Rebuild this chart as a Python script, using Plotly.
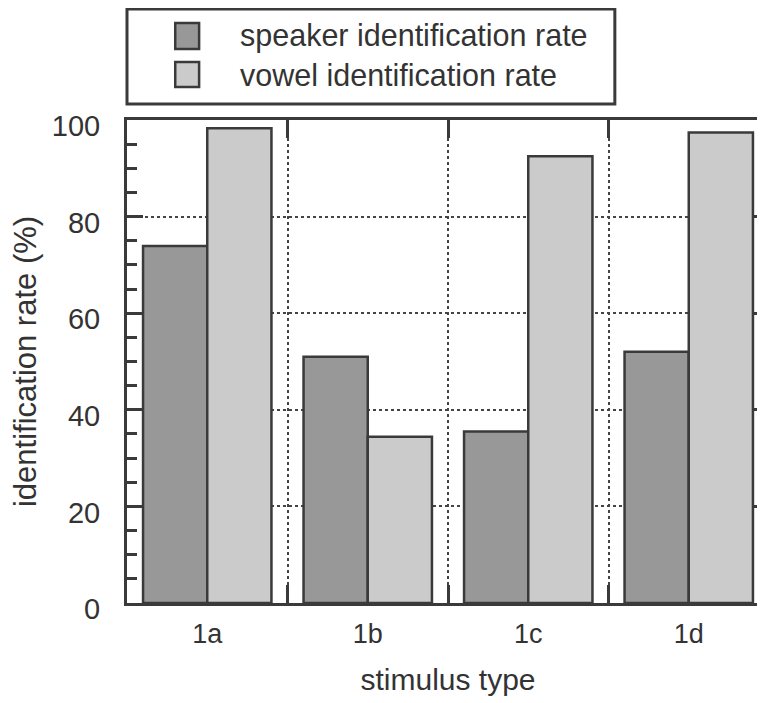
import plotly.graph_objects as go

categories = ["1a", "1b", "1c", "1d"]
speaker_rate = [73.9, 51.0, 35.5, 52.0]
vowel_rate = [98.3, 34.4, 92.5, 97.4]
series_names = ["speaker identification rate", "vowel identification rate"]
y_ticks = [0, 20, 40, 60, 80, 100]

SPEAKER_COLOR = "#989898"
VOWEL_COLOR = "#cbcbcb"
EDGE = "#3a3a3a"
TEXT = "#333333"
FONT = "Liberation Sans, Arial, sans-serif"

W, H = 765, 703
OFF = 8  # page body margin
L, T, B, R = 118.5, 112, 108, 1
plot_w = W - L - R
plot_h = H - T - B

def px_x(p):
    return (p - OFF - L) / plot_w

def px_y(p):
    return (H - B - (p - OFF)) / plot_h

fig = go.Figure()
fig.add_trace(go.Bar(x=categories, y=speaker_rate, name=series_names[0],
                     marker=dict(color=SPEAKER_COLOR, line=dict(color=EDGE, width=2.5)),
                     showlegend=False))
fig.add_trace(go.Bar(x=categories, y=vowel_rate, name=series_names[1],
                     marker=dict(color=VOWEL_COLOR, line=dict(color=EDGE, width=2.5)),
                     showlegend=False))

# manual legend (box, swatches, labels)
shapes = [dict(type="rect", xref="paper", yref="paper",
               x0=px_x(126.5), x1=px_x(617), y0=px_y(104), y1=px_y(9),
               line=dict(color=EDGE, width=3), fillcolor="white")]
rows = [(23, 49, 36), (62, 87, 75)]
colors = [SPEAKER_COLOR, VOWEL_COLOR]
annotations = []
for (top, bot, mid), c, name in zip(rows, colors, series_names):
    shapes.append(dict(type="rect", xref="paper", yref="paper",
                       x0=px_x(175), x1=px_x(199), y0=px_y(bot), y1=px_y(top),
                       line=dict(color=EDGE, width=2.5), fillcolor=c))
    annotations.append(dict(xref="paper", yref="paper", x=px_x(238), y=px_y(mid),
                            xanchor="left", yanchor="middle", text=name, showarrow=False,
                            font=dict(family=FONT, size=30.5, color=TEXT)))

fig.update_layout(
    width=W, height=H,
    margin=dict(l=L, r=R, t=T, b=B, pad=0),
    paper_bgcolor="white", plot_bgcolor="white",
    barmode="group", bargap=0.2, bargroupgap=0,
    font=dict(family=FONT, color=TEXT),
    shapes=shapes, annotations=annotations,
    showlegend=False,
    xaxis=dict(
        type="category", categoryorder="array", categoryarray=categories,
        range=[-0.5, 3.5],
        tickson="boundaries", ticks="inside", ticklen=18, tickwidth=2.5, tickcolor=EDGE,
        showline=True, linecolor=EDGE, linewidth=3, mirror="ticks",
        showgrid=True, gridcolor="#444444", griddash="dot", gridwidth=2,
        tickfont=dict(family=FONT, size=27, color=TEXT), ticklabelstandoff=5,
        title=dict(text="stimulus type", font=dict(family=FONT, size=30, color=TEXT), standoff=21),
        zeroline=False,
    ),
    yaxis=dict(
        range=[0, 100], tickvals=y_ticks, ticks="inside", ticklen=16, tickwidth=2.5,
        tickcolor=EDGE, showline=True, linecolor=EDGE, linewidth=3, mirror="ticks",
        minor=dict(dtick=5, ticks="inside", ticklen=10, tickwidth=2.5, tickcolor=EDGE, showgrid=False),
        showgrid=True, gridcolor="#444444", griddash="dot", gridwidth=2,
        tickfont=dict(family=FONT, size=29, color=TEXT), ticklabelstandoff=18,
        ticklabelshift=6,
        title=dict(text="identification rate (%)", font=dict(family=FONT, size=31, color=TEXT), standoff=8),
        zeroline=False,
    ),
)

fig.write_html("out.html")
